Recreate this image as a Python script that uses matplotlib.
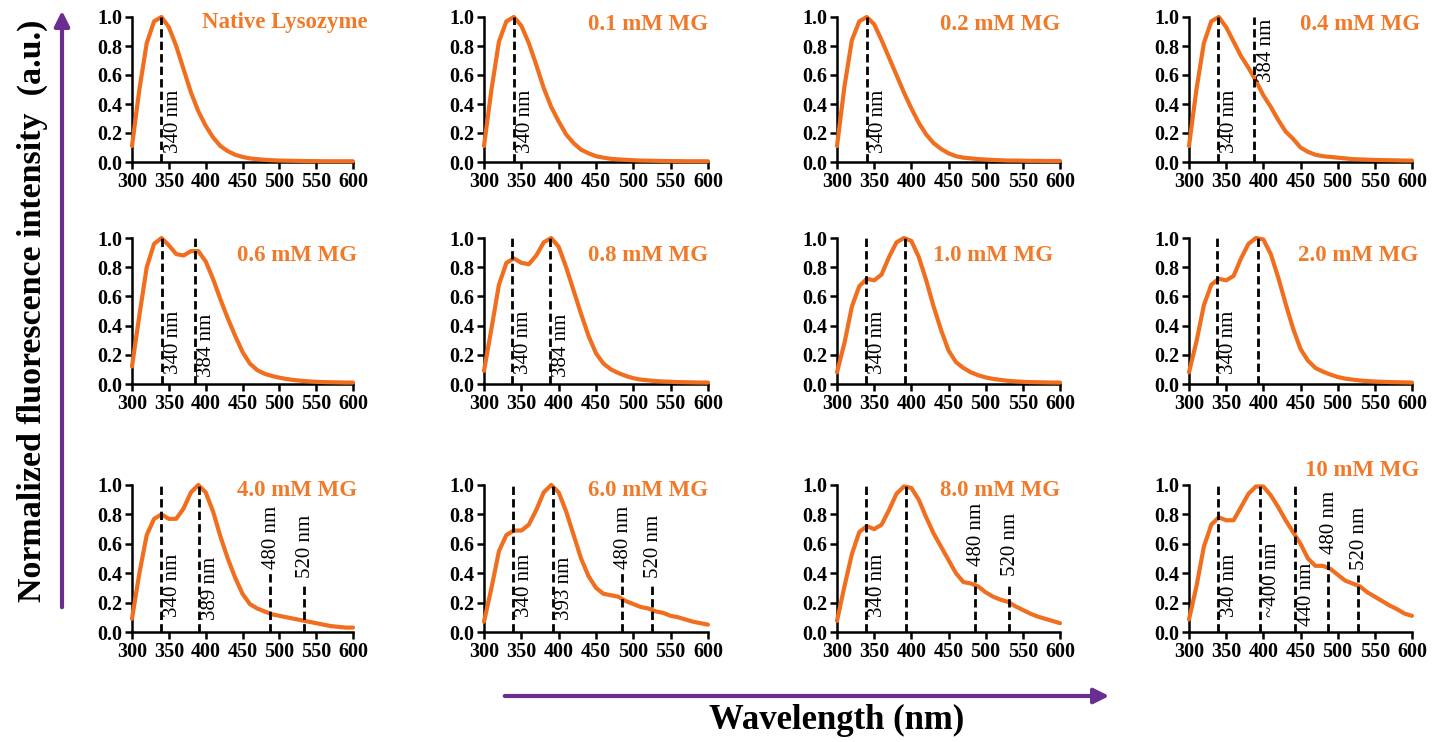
import matplotlib
matplotlib.use("Agg")
import matplotlib.pyplot as plt
from matplotlib.patches import FancyArrowPatch

plt.rcParams['font.family'] = ['Liberation Serif', 'DejaVu Serif']

# ---------------- data ----------------
wavelength = list(range(300, 601, 10))

native = [0.11, 0.50, 0.82, 0.97, 1.00, 0.93, 0.80, 0.64, 0.48, 0.35, 0.25, 0.17, 0.11, 0.075, 0.05,
          0.035, 0.025, 0.02, 0.015, 0.012, 0.01, 0.009, 0.008, 0.007, 0.006, 0.006, 0.005, 0.005, 0.005, 0.005, 0.005]
mg01 = [0.11, 0.50, 0.83, 0.97, 1.00, 0.94, 0.82, 0.67, 0.51, 0.38, 0.28, 0.19, 0.13, 0.085, 0.06,
        0.04, 0.03, 0.022, 0.018, 0.015, 0.012, 0.01, 0.009, 0.008, 0.007, 0.006, 0.006, 0.005, 0.005, 0.005, 0.005]
mg02 = [0.11, 0.52, 0.84, 0.97, 1.00, 0.95, 0.84, 0.72, 0.60, 0.48, 0.37, 0.27, 0.19, 0.13, 0.09,
        0.06, 0.04, 0.03, 0.025, 0.02, 0.017, 0.014, 0.012, 0.01, 0.01, 0.009, 0.008, 0.008, 0.007, 0.007, 0.007]
mg04 = [0.11, 0.50, 0.82, 0.97, 1.00, 0.93, 0.83, 0.73, 0.65, 0.56, 0.46, 0.38, 0.29, 0.21, 0.16,
        0.10, 0.07, 0.05, 0.04, 0.035, 0.03, 0.025, 0.02, 0.018, 0.016, 0.014, 0.013, 0.012, 0.011, 0.01, 0.01]
mg06 = [0.12, 0.47, 0.80, 0.96, 1.00, 0.95, 0.89, 0.88, 0.91, 0.91, 0.84, 0.72, 0.58, 0.45, 0.33,
        0.22, 0.14, 0.095, 0.07, 0.055, 0.043, 0.034, 0.027, 0.022, 0.018, 0.015, 0.013, 0.012, 0.011, 0.01, 0.01]
mg08 = [0.09, 0.38, 0.68, 0.83, 0.86, 0.83, 0.82, 0.88, 0.97, 1.00, 0.94, 0.80, 0.64, 0.48, 0.33,
        0.21, 0.14, 0.10, 0.075, 0.055, 0.04, 0.03, 0.025, 0.02, 0.017, 0.015, 0.013, 0.012, 0.011, 0.01, 0.01]
mg10 = [0.08, 0.28, 0.53, 0.67, 0.72, 0.71, 0.75, 0.87, 0.97, 1.00, 0.98, 0.87, 0.71, 0.53, 0.37,
        0.23, 0.15, 0.11, 0.08, 0.06, 0.045, 0.035, 0.028, 0.022, 0.018, 0.015, 0.013, 0.012, 0.011, 0.01, 0.01]
mg20 = [0.08, 0.29, 0.54, 0.68, 0.72, 0.71, 0.74, 0.86, 0.96, 1.00, 0.99, 0.89, 0.73, 0.55, 0.38,
        0.24, 0.16, 0.11, 0.085, 0.065, 0.048, 0.037, 0.03, 0.024, 0.02, 0.017, 0.015, 0.013, 0.012, 0.011, 0.01]
mg40 = [0.09, 0.40, 0.66, 0.77, 0.80, 0.77, 0.77, 0.84, 0.95, 1.00, 0.95, 0.82, 0.65, 0.50, 0.37,
        0.26, 0.19, 0.16, 0.14, 0.12, 0.11, 0.10, 0.09, 0.08, 0.07, 0.06, 0.05, 0.04, 0.035, 0.03, 0.03]
mg60 = [0.07, 0.30, 0.55, 0.66, 0.69, 0.69, 0.73, 0.83, 0.95, 1.00, 0.95, 0.82, 0.66, 0.50, 0.38,
        0.30, 0.26, 0.25, 0.24, 0.21, 0.19, 0.17, 0.16, 0.14, 0.13, 0.11, 0.10, 0.085, 0.07, 0.06, 0.05]
mg80 = [0.075, 0.31, 0.53, 0.68, 0.72, 0.70, 0.73, 0.83, 0.94, 0.99, 0.98, 0.90, 0.78, 0.67, 0.58,
        0.49, 0.40, 0.34, 0.33, 0.31, 0.27, 0.24, 0.22, 0.205, 0.175, 0.15, 0.125, 0.105, 0.09, 0.075, 0.06]
mg100 = [0.085, 0.31, 0.58, 0.73, 0.78, 0.76, 0.76, 0.85, 0.94, 0.99, 0.99, 0.93, 0.85, 0.76, 0.68,
         0.60, 0.50, 0.45, 0.45, 0.43, 0.39, 0.35, 0.33, 0.31, 0.27, 0.24, 0.21, 0.18, 0.155, 0.125, 0.11]

titles = ["Native Lysozyme", "0.1 mM MG", "0.2 mM MG", "0.4 mM MG",
          "0.6 mM MG", "0.8 mM MG", "1.0 mM MG", "2.0 mM MG",
          "4.0 mM MG", "6.0 mM MG", "8.0 mM MG", "10 mM MG"]
series = [native, mg01, mg02, mg04, mg06, mg08, mg10, mg20, mg40, mg60, mg80, mg100]

peak_positions = [[340], [340], [340], [339, 387],
                  [341, 385], [338, 388], [339, 392], [338, 393],
                  [339, 391, 487, 533], [339, 392, 485, 525], [339, 393, 486, 532],
                  [339, 395, 443, 487, 527]]
peak_labels = [["340 nm"], ["340 nm"], ["340 nm"], ["340 nm", "384 nm"],
               ["340 nm", "384 nm"], ["340 nm", "384 nm"], ["340 nm", ""], ["340 nm", ""],
               ["340 nm", "389 nm", "480 nm", "520 nm"], ["340 nm", "393 nm", "480 nm", "520 nm"],
               ["340 nm", "", "480 nm", "520 nm"],
               ["340 nm", "~400 nm", "440 nm", "480 nm", "520 nm"]]

# ---------------- layout / styles ----------------
W, H = 1445, 742
col_left = [132, 484, 837, 1189]
col_width = [221, 224, 223, 223]
row_top = [17, 238, 485]
row_bottom = [162, 384, 632]

# (line top, label mode, label y) per peak: 'r' = right of line, 'rt' = right at top, 'c' = above line
peak_style = [
    [(1, 'r', 0.06)], [(1, 'r', 0.06)], [(1, 'r', 0.06)], [(1, 'r', 0.06), (1, 'rt', 0.99)],
    [(1, 'r', 0.07), (1, 'r', 0.05)], [(1, 'r', 0.07), (1, 'r', 0.05)], [(1, 'r', 0.07), (1, 'r', 0)], [(1, 'r', 0.07), (1, 'r', 0)],
    [(1, 'r', 0.10), (1, 'r', 0.08), (0.40, 'c', 0.43), (0.34, 'c', 0.37)],
    [(1, 'r', 0.10), (1, 'r', 0.08), (0.40, 'c', 0.43), (0.34, 'c', 0.37)],
    [(1, 'r', 0.10), (1, 'r', 0.08), (0.42, 'c', 0.45), (0.34, 'c', 0.38)],
    [(1, 'r', 0.10), (1, 'r', 0.10), (1, 'r', 0.04), (0.50, 'c', 0.53), (0.39, 'c', 0.42)],
]
title_pos = [(1.065, 0.96), (1.0, 0.945), (1.0, 0.945), (1.035, 0.945),
             (1.02, 0.88), (1.0, 0.88), (0.97, 0.88), (1.03, 0.88),
             (1.02, 0.965), (1.0, 0.965), (1.0, 0.965), (1.035, 1.10)]

orange = '#F06E1E'
title_color = '#F07A2A'
purple = '#6B2D90'

fig = plt.figure(figsize=(W / 100, H / 100), dpi=100)

for i in range(12):
    r, c = divmod(i, 4)
    left = col_left[c] / W
    bottom = 1 - row_bottom[r] / H
    width = col_width[c] / W
    height = (row_bottom[r] - row_top[r]) / H
    ax = fig.add_axes([left, bottom, width, height])
    ax.plot(wavelength, series[i], color=orange, lw=3.0, clip_on=False, zorder=3,
            solid_joinstyle='round', solid_capstyle='round')
    for pos, lab, (top, mode, ly) in zip(peak_positions[i], peak_labels[i], peak_style[i]):
        ax.plot([pos, pos], [0, top], color='black', lw=2.0, linestyle=(0, (3, 1.5)),
                clip_on=False, zorder=4)
        if not lab:
            continue
        if mode == 'r':
            ax.annotate(lab, xy=(pos, ly), xytext=(1.5, 0), textcoords='offset points',
                        rotation=90, ha='left', va='bottom', fontsize=15, color='black')
        elif mode == 'rt':
            ax.annotate(lab, xy=(pos, ly), xytext=(2.5, 0), textcoords='offset points',
                        rotation=90, ha='left', va='top', fontsize=15, color='black')
        else:
            ax.annotate(lab, xy=(pos, ly), xytext=(1, 0), textcoords='offset points',
                        rotation=90, ha='center', va='bottom', fontsize=15, color='black')
    tx, ty = title_pos[i]
    ax.text(tx, ty, titles[i], transform=ax.transAxes, ha='right', va='center',
            fontsize=16.5, fontweight='bold', color=title_color)
    ax.set_xlim(300, 600)
    ax.set_ylim(0, 1.0)
    ax.set_xticks([300, 350, 400, 450, 500, 550, 600])
    ax.set_yticks([0.0, 0.2, 0.4, 0.6, 0.8, 1.0])
    ax.set_yticklabels(['0.0', '0.2', '0.4', '0.6', '0.8', '1.0'])
    for s in ['top', 'right']:
        ax.spines[s].set_visible(False)
    for s in ['left', 'bottom']:
        ax.spines[s].set_linewidth(1.8)
    ax.tick_params(direction='out', length=5, width=1.8, pad=2, labelsize=14.5)
    for lbl in ax.get_xticklabels() + ax.get_yticklabels():
        lbl.set_fontweight('bold')
    ax.patch.set_alpha(0)

# global axis labels with purple arrows
fig.text(32 / W, 1 - 311 / H, "Normalized fluorescence intensity  (a.u.)", rotation=90,
         ha='center', va='center', fontsize=24.5, fontweight='bold')
fig.patches.append(FancyArrowPatch((62 / W, 1 - 610 / H), (62 / W, 1 - 8 / H),
                                   transform=fig.transFigure, arrowstyle='-|>,head_length=6,head_width=3',
                                   color=purple, lw=3, mutation_scale=1.5))
fig.patches.append(FancyArrowPatch((502 / W, 1 - 696 / H), (1112 / W, 1 - 696 / H),
                                   transform=fig.transFigure, arrowstyle='-|>,head_length=6,head_width=3',
                                   color=purple, lw=3, mutation_scale=1.5))
fig.text(837 / W, 1 - 720 / H, "Wavelength (nm)", ha='center', va='center',
         fontsize=25, fontweight='bold')

fig.savefig("out.png", dpi=100)
